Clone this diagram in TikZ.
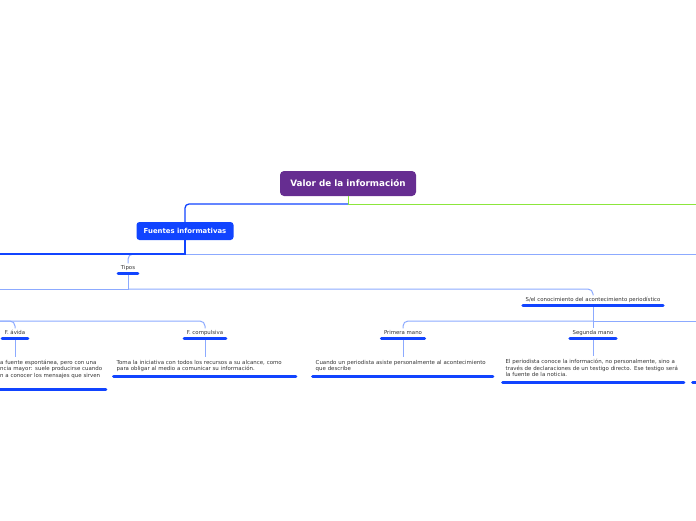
\documentclass[tikz,border=0pt]{standalone}
\usepackage{fontspec}
\setmainfont{DejaVu Sans}
\definecolor{mmpurple}{RGB}{102,45,145}
\definecolor{mmblue}{RGB}{17,68,255}
\definecolor{mmlight}{RGB}{140,170,255}
\definecolor{mmgreen}{RGB}{140,230,60}
\definecolor{mmtext}{RGB}{50,50,50}
\begin{document}
\begin{tikzpicture}[x=1pt,y=-1pt,
    mainbox/.style={fill=mmpurple,text=white,rounded corners=4pt,minimum width=136pt,minimum height=25pt,font=\fontsize{8.8}{10}\selectfont\bfseries},
    subbox/.style={fill=mmblue,text=white,rounded corners=3pt,minimum width=97pt,minimum height=18pt,font=\fontsize{6.9}{8}\selectfont\bfseries},
    topic/.style={anchor=south,inner xsep=4pt,inner ysep=2pt,text height=4pt,text depth=1.3pt,text=mmtext,font=\fontsize{5.4}{6}\selectfont},
    body/.style={anchor=south west,inner xsep=4.5pt,inner ysep=3pt,align=left,text=mmtext,font=\fontsize{5.45}{6.5}\selectfont,execute at end node=\strut},
    bar/.style={mmblue,line width=3pt,line cap=round,shorten <=1.5pt,shorten >=1.5pt},
    link/.style={mmlight,line width=1pt},
    mainlink/.style={mmblue,line width=1.3pt}]
    \useasboundingbox (0,0) rectangle (696,520);
    \clip (0,0) rectangle (696,520);
    \node[mainbox] (valor) at (348,183.5) {Valor de la información};
    \node[subbox] (fuentes) at (185,231) {Fuentes informativas};
    \node[topic] (tipos) at (128,273) {Tipos};
    \node[topic] (conoc) at (593,305) {S/el conocimiento del acontecimiento periodístico};
    \node[topic] (avida) at (15,338) {F. ávida};
    \node[topic] (compulsiva) at (205,338) {F. compulsiva};
    \node[topic] (primera) at (403,338) {Primera mano};
    \node[topic] (segunda) at (593,338) {Segunda mano};
    \node[body,text width=102.5pt] (avidatxt) at (-4.5,389) {a fuente espontánea, pero con una\\ncia mayor: suele producirse cuando\\n a conocer los mensajes que sirven\\};
    \node[body,text width=176pt] (compulsivatxt) at (112,376) {Toma la iniciativa con todos los recursos a su alcance, como\\para obligar al medio a comunicar su información.};
    \node[body,text width=174pt] (primeratxt) at (311,376) {Cuando un periodista asiste personalmente al acontecimiento\\que describe};
    \node[body,text width=175pt] (segundatxt) at (501,382) {El periodista conoce la información, no personalmente, sino a\\través de declaraciones de un testigo directo. Ese testigo será\\la fuente de la noticia.};
    \coordinate (der0) at (696,204);
    \coordinate (izq1) at (0,254);
    \coordinate (der1) at (696,254);
    \coordinate (izq2) at (0,289);
    \coordinate (izq3) at (0,321);
    \coordinate (der3) at (696,321);
    \coordinate (sig) at (691,382);
    \draw[mmgreen,line width=1pt] (valor.south) |- (der0);
    \draw[mainlink,rounded corners=4pt] (valor.south |- der0) -| (fuentes.north);
    \draw[link] (fuentes.south |- izq1) -- (der1);
    \draw[link,rounded corners=5pt] (fuentes.south |- izq1) -| (tipos.north);
    \draw[mainlink] (fuentes.south) |- (izq1);
    \draw[link] (tipos.south) |- (izq2);
    \draw[link,rounded corners=5pt] (tipos.south |- izq2) -| (conoc.north);
    \draw[link,rounded corners=5pt] (izq3) -| (avida.north);
    \draw[link,rounded corners=5pt] (izq3) -| (compulsiva.north);
    \draw[link] (conoc.south) |- (der3);
    \draw[link,rounded corners=5pt] (conoc.south |- der3) -| (primera.north);
    \draw[link] (conoc.south) -- (segunda.north);
    \foreach \t in {avida,compulsiva,primera,segunda}
        \draw[link] (\t.south) -- (\t.south |- \t txt.north);
    \foreach \n in {tipos,conoc,avida,compulsiva,primera,segunda,avidatxt,compulsivatxt,primeratxt,segundatxt}
        \draw[bar] (\n.south west) -- (\n.south east);
    \draw[bar] (sig) -- ++(10,0);
\end{tikzpicture}
\end{document}
